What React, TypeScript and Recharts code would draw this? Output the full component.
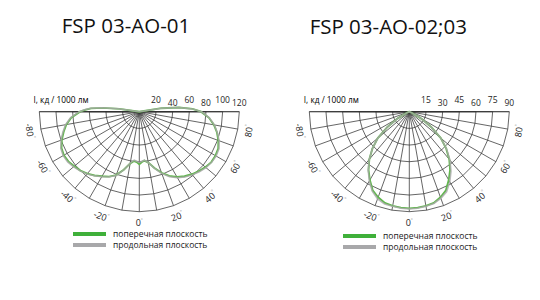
import { RadarChart, Radar, PolarGrid, PolarAngleAxis, PolarRadiusAxis } from "recharts";

const FONT = '"Open Sans", "Noto Sans", sans-serif';

// FSP 03-AO-01 (batwing), angle in degrees from nadir, I in cd/1000 lm
const angles01 = [
  -100, -98, -96, -94, -92, -90, -85, -80, -75, -70, -65, -60, -55, -50, -45, -40, -35, -30, -25, -20, -15, -10, -6, -3,
  0, 3, 6, 10, 15, 20, 25, 30, 35, 40, 45, 50, 55, 60, 65, 70, 75, 80, 85, 90, 93, 96, 99, 102,
];
const transverse01 = [
  0, 24, 44, 58, 65, 71, 82, 89, 94, 99, 103, 104.5, 104, 102, 100, 97, 93.5, 89.5, 86, 81, 72, 63, 59.5, 60.5,
  63, 60.5, 59, 62, 70, 78, 85, 90.5, 94.5, 98, 101, 103.5, 105.5, 105.5, 104.5, 101, 96.5, 91, 84, 74, 64, 48, 27, 0,
];
const longitudinal01 = [
  0, 25, 45, 59, 66, 72, 83, 90, 95, 100, 104, 105.5, 105, 103, 100.5, 97.5, 94, 90, 86.5, 81.5, 72.5, 62.5, 58.5, 59.5,
  61, 59.5, 58.5, 62, 70.5, 79, 86, 91.5, 95.5, 99, 102, 104.5, 106, 106.5, 105.5, 102, 97, 91.5, 84.5, 74.5, 64, 48, 27, 0,
];
const radiusTicks01 = [20, 40, 60, 80, 100, 120];

// FSP 03-AO-02;03 (cosine-like)
const angles02 = [-70, -65, -60, -55, -50, -45, -40, -35, -30, -25, -20, -15, -10, -5, 0, 5, 10, 15, 20, 25, 30, 35, 40, 45, 50, 55, 60, 65, 70];
const transverse02 = [0, 3, 12, 24, 37, 47, 56, 64, 71, 78, 82, 85, 86, 86.7, 87, 86.7, 86, 85, 82, 78, 71, 64, 56, 47, 37, 24, 12, 3, 0];
const longitudinal02 = [0, 3, 12, 24, 37, 47, 56, 64.5, 72, 79, 83.5, 86, 86.5, 87.2, 87.5, 87.2, 86.5, 85.5, 83, 79.5, 73, 65.5, 57, 47.5, 37, 24, 12, 3, 0];
const radiusTicks02 = [15, 30, 45, 60, 75, 90];

const gridTicks = [-90, -80, -70, -60, -50, -40, -30, -20, -10, 0, 10, 20, 30, 40, 50, 60, 70, 80, 90];

const legendNames = ["поперечная плоскость", "продольная плоскость"];
const GREEN = "#62b64f";
const GRAY = "#a9a9a9";

function AngleTick(props: any) {
  const { x, y, payload } = props;
  const v = payload.value;
  if (Math.abs(v) >= 90 || v % 20 !== 0) return <g />;
  const a = (-payload.coordinate * Math.PI) / 180;
  const tx = x + 3 * Math.cos(a);
  const ty = y + 3 * Math.sin(a);
  return (
    <text
      x={tx}
      y={ty}
      transform={`rotate(${-v} ${tx} ${ty})`}
      textAnchor="middle"
      dominantBaseline="central"
      fontSize={9}
      fontFamily={FONT}
      fill="#1e1e1e"
    >
      {v}
      <tspan fontSize={5} fill="#9a9a9a" dy={-3}>°</tspan>
    </text>
  );
}

function RadiusTick(props: any) {
  const { x, y, payload, index } = props;
  return (
    <text x={x} y={y - (index % 2 === 0 ? 9 : 5.5)} textAnchor="middle" fontSize={8.5} fontFamily={FONT} fill="#1e1e1e">
      {payload.value}
    </text>
  );
}

function Polar({ angles, transverse, longitudinal, max, ticks }: any) {
  const data = angles.map((a: number, i: number) => ({ angle: a, t: transverse[i], l: longitudinal[i] }));
  return (
    <RadarChart width={270} height={240} data={data} cx={139.3} cy={111.7} outerRadius={100} startAngle={-270} endAngle={90}>
      <PolarGrid gridType="polygon" stroke="#333" strokeWidth={0.75} />
      <PolarAngleAxis
        type="number"
        dataKey="angle"
        domain={[-180, 180]}
        ticks={gridTicks}
        axisLine={false}
        tickLine={false}
        tick={<AngleTick />}
      />
      <PolarRadiusAxis
        type="number"
        angle={0}
        domain={[0, max]}
        ticks={ticks}
        axisLine={false}
        tickLine={false}
        tick={<RadiusTick />}
      />
      <Radar dataKey="t" stroke={GREEN} strokeWidth={1.9} fill="none" dot={false} isAnimationActive={false} />
      <Radar dataKey="l" stroke={GRAY} strokeWidth={1.5} strokeOpacity={0.8} fill="none" dot={false} isAnimationActive={false} />
    </RadarChart>
  );
}

function Legend({ x, y }: { x: number; y: number }) {
  return (
    <g>
      {legendNames.map((n, i) => (
        <g key={n}>
          <rect x={x} y={y + i * 11 - 2} width={33} height={4} fill={i === 0 ? "#3fb03a" : "#a8a8aa"} />
          <text x={x + 40} y={y + i * 11 + 3} fontSize={8.5} fontFamily={FONT} fill="#1a1a1a">
            {n}
          </text>
        </g>
      ))}
    </g>
  );
}

export default function App() {
  return (
    <div style={{ position: "absolute", left: 0, top: 0, width: 540, height: 300, background: "#fff" }}>
      <svg width={540} height={300} style={{ position: "absolute", left: 0, top: 0 }}>
        <text x={126} y={33.3} textAnchor="middle" fontSize={20.5} fontFamily={FONT} fill="#111">
          FSP 03-AO-01
        </text>
        <text x={388.3} y={34.3} textAnchor="middle" fontSize={20.5} fontFamily={FONT} fill="#111">
          FSP 03-AO-02;03
        </text>
        <text x={88.5} y={103} textAnchor="end" fontSize={8.3} fontFamily={FONT} fill="#000">I, кд / 1000 лм</text>
        <text x={358.8} y={103} textAnchor="end" fontSize={8.3} fontFamily={FONT} fill="#000">I, кд / 1000 лм</text>
        <Legend x={73} y={234} />
        <Legend x={343} y={236} />
      </svg>
      <div style={{ position: "absolute", left: 0, top: 0 }}>
        <Polar angles={angles01} transverse={transverse01} longitudinal={longitudinal01} max={120} ticks={radiusTicks01} />
      </div>
      <div style={{ position: "absolute", left: 270, top: 0 }}>
        <Polar angles={angles02} transverse={transverse02} longitudinal={longitudinal02} max={90} ticks={radiusTicks02} />
      </div>
    </div>
  );
}
